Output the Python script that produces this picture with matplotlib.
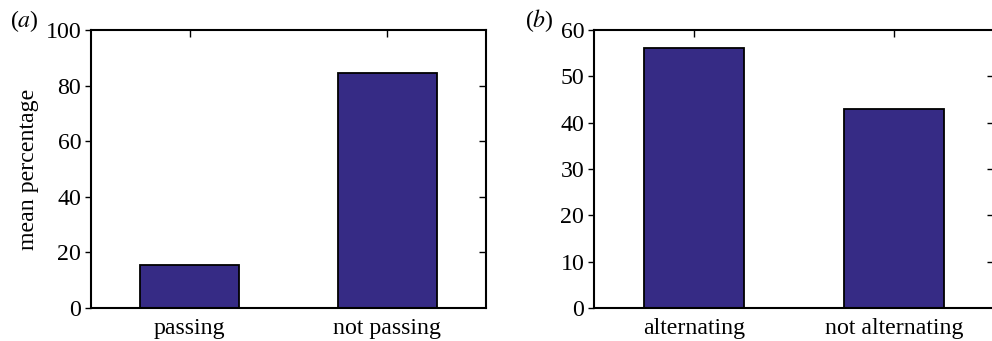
import matplotlib
matplotlib.use("Agg")
import matplotlib.pyplot as plt

plt.rcParams['font.family'] = ['Liberation Serif', 'DejaVu Serif']
plt.rcParams['mathtext.fontset'] = 'stix'

cats_a = ["passing", "not passing"]
vals_a = [15.3, 84.7]
cats_b = ["alternating", "not alternating"]
vals_b = [56.1, 43.0]
yticks_a = [0, 20, 40, 60, 80, 100]
yticks_b = [0, 10, 20, 30, 40, 50, 60]

bar_color = "#362b85"
fs = 17.2

fig = plt.figure(figsize=(9.92, 3.41), dpi=100)
H = 341.0
W = 992.0
ax_a = fig.add_axes([91 / W, 1 - 308 / H, (486 - 91) / W, (308 - 30) / H])
ax_b = fig.add_axes([594 / W, 1 - 308 / H, (994 - 594) / W, (308 - 30) / H])

def style(ax, cats, vals, yticks, ymax):
    x = list(range(1, len(cats) + 1))
    ax.bar(x, vals, width=0.5, color=bar_color, edgecolor="black", linewidth=1.3, zorder=3)
    ax.set_xlim(0.5, len(cats) + 0.5)
    ax.set_ylim(0, ymax)
    ax.set_xticks(x)
    ax.set_xticklabels(cats, fontsize=fs)
    ax.set_yticks(yticks)
    ax.set_yticklabels([str(v) for v in yticks], fontsize=fs)
    for s in ax.spines.values():
        s.set_linewidth(1.5)
        s.set_zorder(4)
    ax.tick_params(axis='x', which='both', bottom=True, top=True, direction='in',
                   length=5, width=1, pad=7)
    ax.tick_params(axis='x', bottom=False)
    ax.tick_params(axis='y', left=True, right=False, direction='out', length=4, width=1, pad=3)
    sec = ax.secondary_yaxis('right')
    sec.set_yticks(yticks[1:-1])
    sec.tick_params(direction='in', length=5, width=1, labelright=False)
    sec.spines['right'].set_visible(False)

style(ax_a, cats_a, vals_a, yticks_a, 100)
style(ax_b, cats_b, vals_b, yticks_b, 60)

ax_a.set_ylabel("mean percentage", fontsize=fs, labelpad=5)

fig.text(10 / W, 1 - 21 / H, "($a$)", fontsize=fs, va='center', ha='left')
fig.text(525 / W, 1 - 21 / H, "($b$)", fontsize=fs, va='center', ha='left')

fig.savefig("out.png", dpi=100)
